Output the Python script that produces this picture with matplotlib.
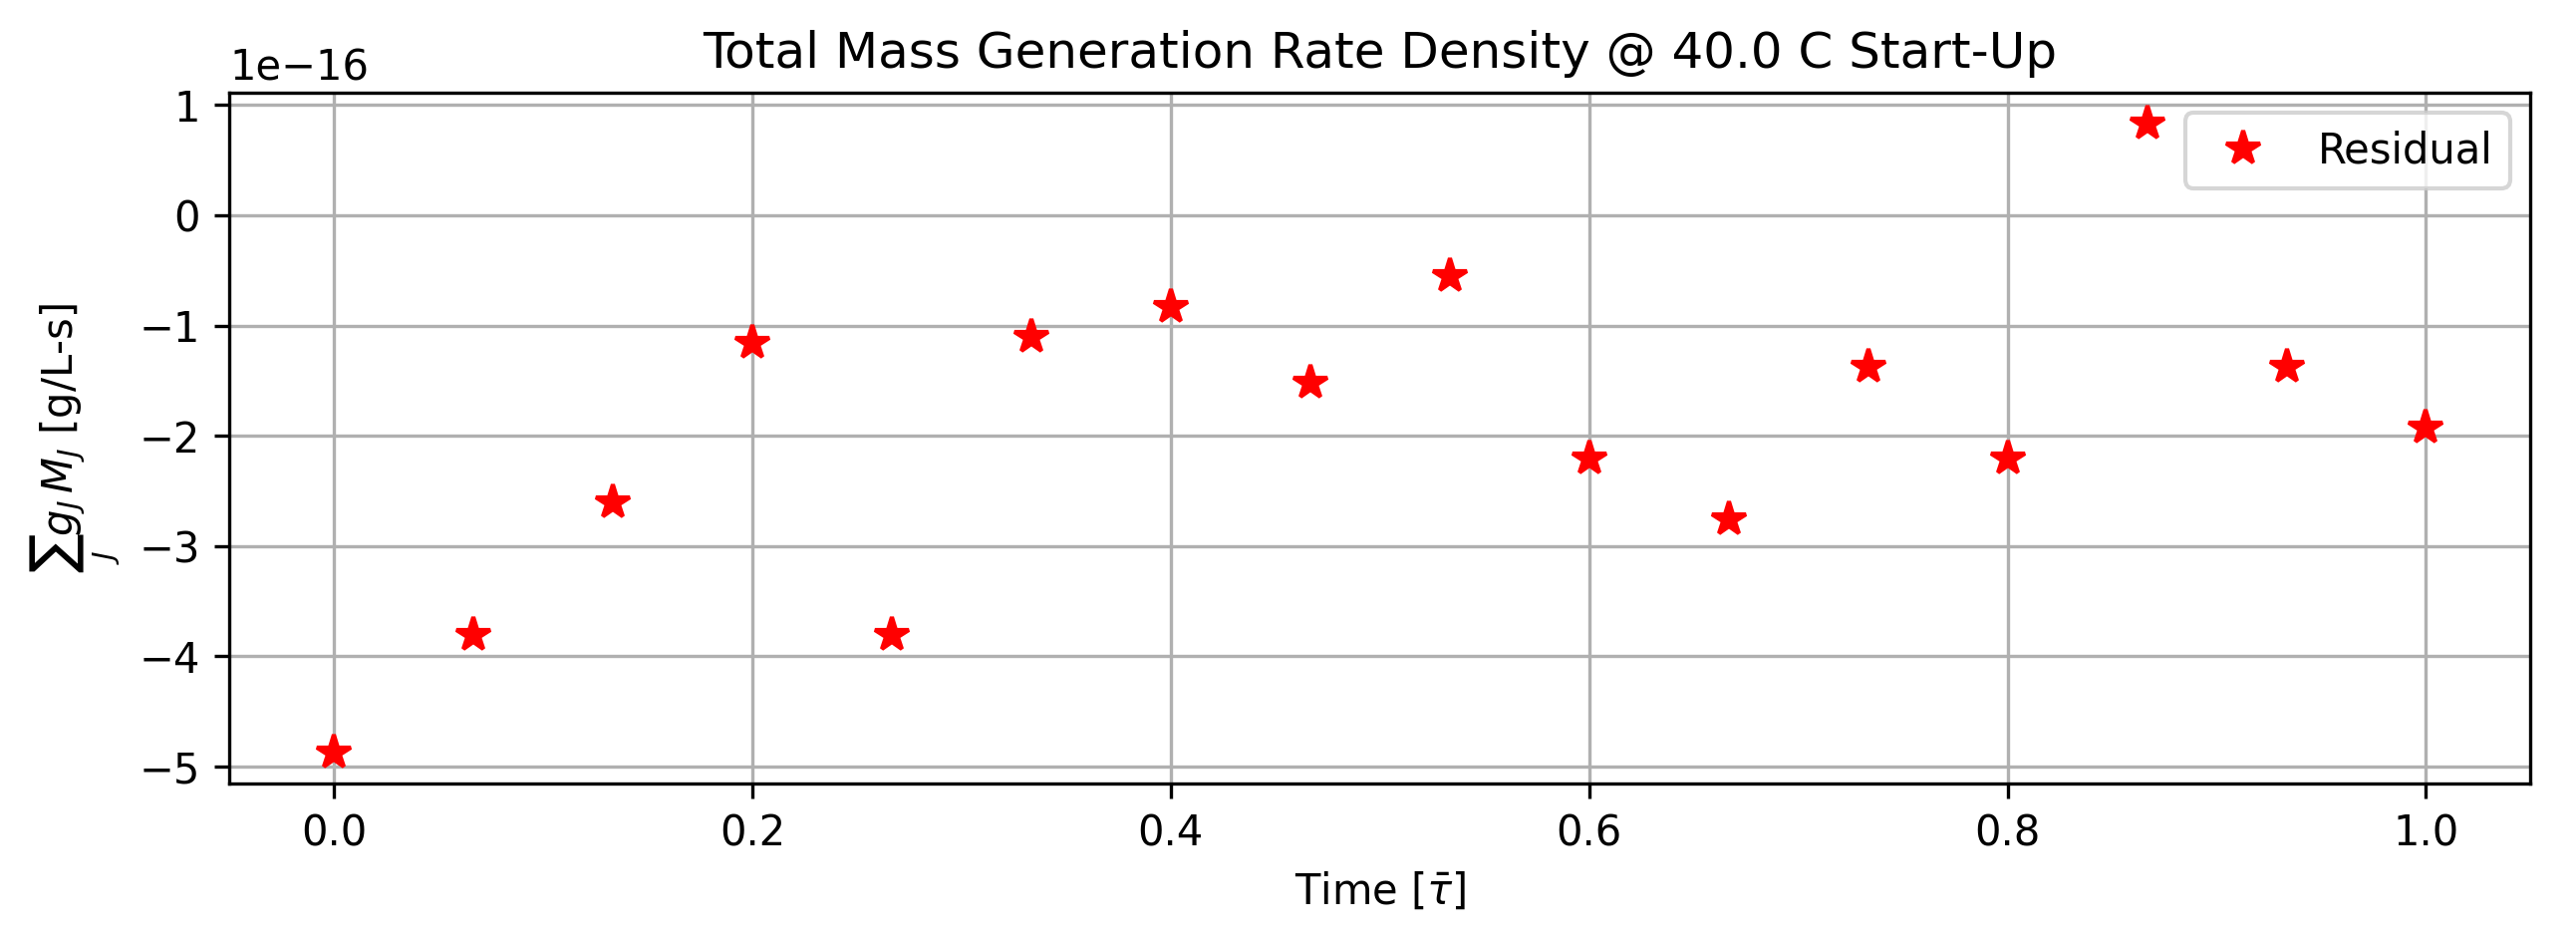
import numpy as np
import matplotlib.pyplot as plt

time = np.linspace(0, 1, 16)
residual = np.array([-4.87, -3.81, -2.60, -1.16, -3.81, -1.10, -0.83, -1.52,
                     -0.55, -2.21, -2.76, -1.37, -2.21, 0.83, -1.37, -1.93]) * 1e-16

fig, ax = plt.subplots(figsize=(8.62, 3.15), dpi=300)
ax.plot(time, residual, '*', color='red', markersize=8.5, label='Residual')
ax.set_title('Total Mass Generation Rate Density @ 40.0 C Start-Up')
ax.set_xlabel(r'Time [$\bar{\tau}$]')
ax.set_ylabel(r'$\sum_J g_J\,M_J$ [g/L-s]')
ax.grid()
ax.legend(loc='upper right')
fig.subplots_adjust(left=0.089, right=0.982, top=0.902, bottom=0.168)
fig.savefig('out.png', dpi=300)
